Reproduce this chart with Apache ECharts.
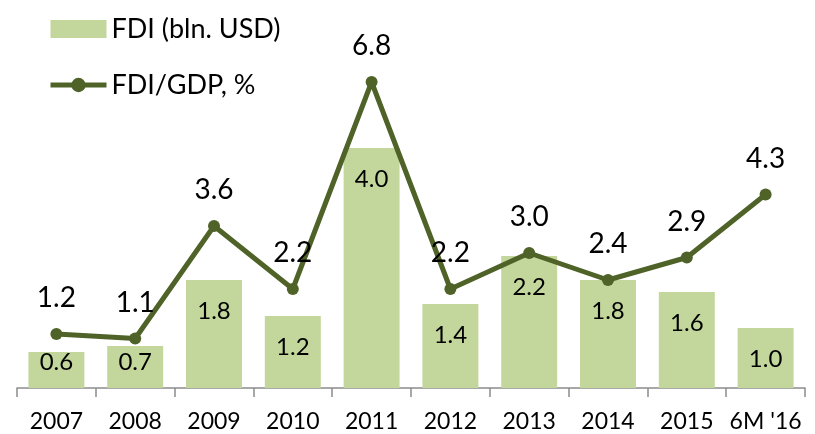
<!DOCTYPE html>
<html>
<head>
<meta charset="utf-8">
<script src="https://cdn.jsdelivr.net/npm/echarts@6/dist/echarts.min.js"></script>
<style>
  html, body { margin: 0; padding: 0; background: #fff; }
  #chart { width: 815px; height: 434px; }
</style>
</head>
<body>
<div id="chart"></div>
<script>
const categories = ["2007", "2008", "2009", "2010", "2011", "2012", "2013", "2014", "2015", "6M '16"];
const fdiBln = [0.6, 0.7, 1.8, 1.2, 4.0, 1.4, 2.2, 1.8, 1.6, 1.0];
const fdiGdp = [1.2, 1.1, 3.6, 2.2, 6.8, 2.2, 3.0, 2.4, 2.9, 4.3];

const font = "Lato, 'Noto Sans', sans-serif";
const barColor = "#c3d69b";
const lineColor = "#4f6228";

const chart = echarts.init(document.getElementById("chart"));

chart.setOption({
  animation: false,
  textStyle: { fontFamily: font, color: "#000" },
  legend: {
    orient: "vertical",
    left: 43,
    top: 8,
    itemWidth: 56,
    itemHeight: 18,
    itemGap: 24,
    textStyle: { fontSize: 27, lineHeight: 32, color: "#000", fontFamily: font },
    data: [
      { name: "FDI (bln. USD)", icon: "rect" },
      { name: "FDI/GDP, %", lineStyle: { width: 5, color: lineColor } },
    ],
  },
  grid: { left: 17, right: 10, top: 28, bottom: 46 },
  xAxis: {
    type: "category",
    data: categories,
    axisLine: { lineStyle: { color: "#8c8c8c", width: 1.5 } },
    axisTick: { show: true, alignWithLabel: false, length: 9, lineStyle: { color: "#8c8c8c", width: 1.5 } },
    axisLabel: { interval: 0, fontSize: 23, color: "#000", margin: 22, fontFamily: font },
  },
  yAxis: [
    { type: "value", min: 0, max: 6, show: false, splitLine: { show: false } },
    { type: "value", min: 0, max: 8, show: false, splitLine: { show: false } },
  ],
  series: [
    {
      name: "FDI (bln. USD)",
      type: "bar",
      yAxisIndex: 0,
      barWidth: "71%",
      itemStyle: { color: barColor },
      label: {
        show: true,
        position: "insideTop",
        distance: 19,
        fontSize: 24,
        color: "#000",
        fontFamily: font,
        formatter: (p) => p.value.toFixed(1),
      },
      data: fdiBln.map((v) =>
        v < 1 ? { value: v, label: { position: "insideBottom", distance: 14 } } : v
      ),
    },
    {
      name: "FDI/GDP, %",
      type: "line",
      yAxisIndex: 1,
      symbol: "circle",
      symbolSize: 12,
      clip: false,
      lineStyle: { color: lineColor, width: 5 },
      itemStyle: { color: lineColor },
      label: {
        show: true,
        position: "top",
        distance: 16,
        fontSize: 28,
        color: "#000",
        fontFamily: font,
        formatter: (p) => p.value.toFixed(1),
      },
      data: fdiGdp,
      z: 3,
    },
  ],
});
</script>
</body>
</html>
